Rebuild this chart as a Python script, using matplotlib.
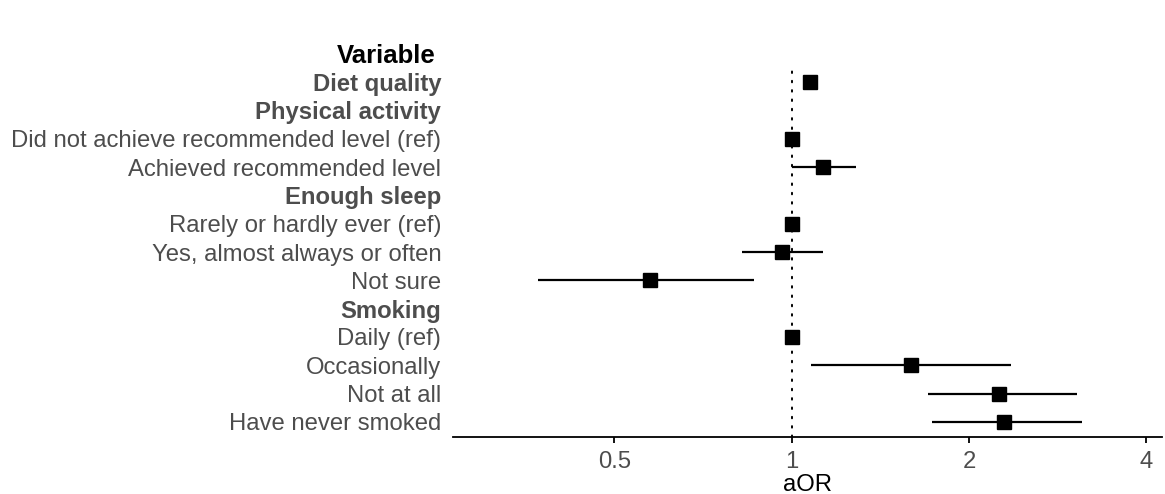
import matplotlib
matplotlib.use("Agg")
import matplotlib.pyplot as plt
import numpy as np

plt.rcParams['font.family'] = ['Liberation Sans', 'DejaVu Sans']

labels = [
    "Diet quality", "Physical activity",
    "Did not achieve recommended level (ref)", "Achieved recommended level",
    "Enough sleep", "Rarely or hardly ever (ref)", "Yes, almost always or often", "Not sure",
    "Smoking", "Daily (ref)", "Occasionally", "Not at all", "Have never smoked",
]
bold = [True, True, False, False, True, False, False, False, True, False, False, False, False]
aor = [1.073, np.nan, 1.0, 1.129, np.nan, 1.0, 0.962, 0.575, np.nan, 1.0, 1.594, 2.25, 2.29]
lower = [1.05, np.nan, np.nan, 1.0, np.nan, np.nan, 0.822, 0.371, np.nan, np.nan, 1.077, 1.70, 1.73]
upper = [1.095, np.nan, np.nan, 1.285, np.nan, np.nan, 1.129, 0.862, np.nan, np.nan, 2.357, 3.05, 3.11]
xticks = [0.5, 1, 2, 4]
xtick_labels = ["0.5", "1", "2", "4"]

W, H = 1165, 494
fig = plt.figure(figsize=(W / 100, H / 100), dpi=100)
ax = fig.add_axes([453 / W, 1 - 437 / H, (1162 - 453) / W, (437 - 64) / H])

y = np.arange(len(labels))
for yi, lo, hi in zip(y, lower, upper):
    if not (np.isnan(lo) or np.isnan(hi)):
        ax.plot([lo, hi], [yi, yi], color='black', lw=1.6, solid_capstyle='butt', zorder=2)
ax.plot(aor, y, linestyle='none', marker='s', markersize=10, color='black', zorder=3)
ax.axvline(1, color='black', lw=1.4, linestyle=(0, (0.8, 4.0)), dash_capstyle='round', zorder=1)

ax.set_xscale('log')
ax.set_xlim(0.266, 4.25)
row_px = 28.33
ax.set_ylim(12 + 15 / row_px, -18 / row_px)
ax.set_xticks(xticks)
ax.set_xticklabels(xtick_labels)
ax.xaxis.set_minor_locator(matplotlib.ticker.NullLocator())
ax.set_yticks(y)
ax.set_yticklabels(labels)
for t, b in zip(ax.get_yticklabels(), bold):
    t.set_fontweight('bold' if b else 'normal')
ax.tick_params(axis='y', length=0, pad=8.5, labelsize=17.2, labelcolor='#4d4d4d')
ax.tick_params(axis='x', length=4, width=1.3, pad=6, labelsize=17.2, labelcolor='#4d4d4d', color='black')

for s in ['top', 'right', 'left']:
    ax.spines[s].set_visible(False)
ax.spines['bottom'].set_linewidth(1.3)
ax.set_xlabel("aOR", fontsize=17.2, color='black', labelpad=1)

fig.text(436 / W, 1 - 56 / H, "Variable", ha='right', va='center',
         fontsize=18.5, fontweight='bold', color='black')

fig.savefig("out.png", dpi=100)
